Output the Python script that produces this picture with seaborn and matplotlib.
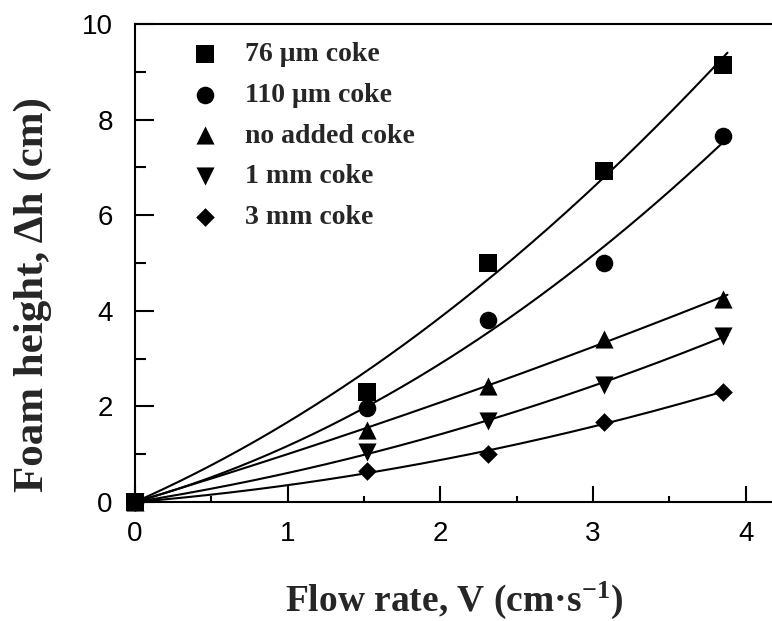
import numpy as np
import pandas as pd
import matplotlib
matplotlib.use("Agg")
import matplotlib.pyplot as plt
from matplotlib.ticker import MultipleLocator
import seaborn as sns

# Measured foam heights at each superficial gas flow rate
flow_rate = [0.0, 1.52, 2.31, 3.07, 3.85]
coke_76um = [0.0, 2.30, 5.00, 6.93, 9.15]
coke_110um = [0.0, 1.97, 3.80, 5.00, 7.65]
no_added_coke = [0.0, 1.50, 2.43, 3.42, 4.25]
coke_1mm = [0.0, 1.05, 1.70, 2.45, 3.48]
coke_3mm = [0.0, 0.65, 1.00, 1.68, 2.30]

series_names = ["76 \u03bcm coke", "110 \u03bcm coke", "no added coke",
                "1 mm coke", "3 mm coke"]
series_values = [coke_76um, coke_110um, no_added_coke, coke_1mm, coke_3mm]
markers = ["s", "o", "^", "v", "D"]
marker_sizes = [150, 160, 170, 170, 90]

x_ticks = [0, 1, 2, 3, 4]
y_ticks = [0, 2, 4, 6, 8, 10]

sns.set_theme(style="ticks")
plt.rcParams["font.family"] = ["Liberation Sans", "DejaVu Sans"]
plt.rcParams["mathtext.default"] = "regular"

fig = plt.figure(figsize=(7.72, 6.21), dpi=100)
ax = fig.add_axes([135 / 772, 1 - 502 / 621, 1 - 135 / 772, (502 - 24) / 621])

x_arr = np.array(flow_rate)
x_fit = np.linspace(0, 3.88, 200)
for name, vals, mk, ms in zip(series_names, series_values, markers, marker_sizes):
    y_arr = np.array(vals)
    # second-order fit constrained through the origin
    A = np.column_stack([x_arr, x_arr ** 2])
    coef, *_ = np.linalg.lstsq(A, y_arr, rcond=None)
    y_fit = coef[0] * x_fit + coef[1] * x_fit ** 2
    fit_df = pd.DataFrame({"V": x_fit, "h": y_fit})
    sns.lineplot(data=fit_df, x="V", y="h", ax=ax, color="black",
                 linewidth=1.5, legend=False)
    pts = pd.DataFrame({"V": x_arr, "h": y_arr})
    sns.scatterplot(data=pts, x="V", y="h", ax=ax, marker=mk, s=ms,
                    color="black", edgecolor="black", linewidth=0,
                    label=name, zorder=5, clip_on=False)

ax.set_xlim(0, (772 - 135) / 152.7)
ax.set_ylim(0, 10)
ax.set_xticks(x_ticks)
ax.set_yticks(y_ticks)
ax.xaxis.set_minor_locator(MultipleLocator(0.5))
ax.yaxis.set_minor_locator(MultipleLocator(1))

ax.spines["right"].set_visible(False)
for side in ["left", "top", "bottom"]:
    ax.spines[side].set_linewidth(1.5)
    ax.spines[side].set_color("black")

ax.tick_params(axis="both", which="both", direction="in", width=1.5,
               colors="black", labelsize=20, top=False, right=False)
ax.tick_params(axis="x", which="major", length=11.5, pad=14)
ax.tick_params(axis="x", which="minor", length=4.5)
ax.tick_params(axis="y", which="major", length=14, pad=16)
ax.tick_params(axis="y", which="minor", length=8)

serif = ["Liberation Serif", "DejaVu Serif"]
ax.set_xlabel("Flow rate, V (cm\u00b7s$^{-1}$)",
              fontdict=dict(family=serif, weight="bold", size=27))
ax.set_ylabel("Foam height, \u0394h (cm)",
              fontdict=dict(family=serif, weight="bold", size=31))
ax.xaxis.set_label_coords(0.5, -0.162)
ax.yaxis.set_label_coords(-0.13, 0.433)

leg = ax.legend(loc="upper left", bbox_to_anchor=(0.088, 0.963),
                frameon=False, handlelength=1.0, handletextpad=0.94,
                borderpad=0, borderaxespad=0, labelspacing=0.55,
                prop=dict(family=serif, weight="bold", size=20))

fig.savefig("out.png", dpi=100)
